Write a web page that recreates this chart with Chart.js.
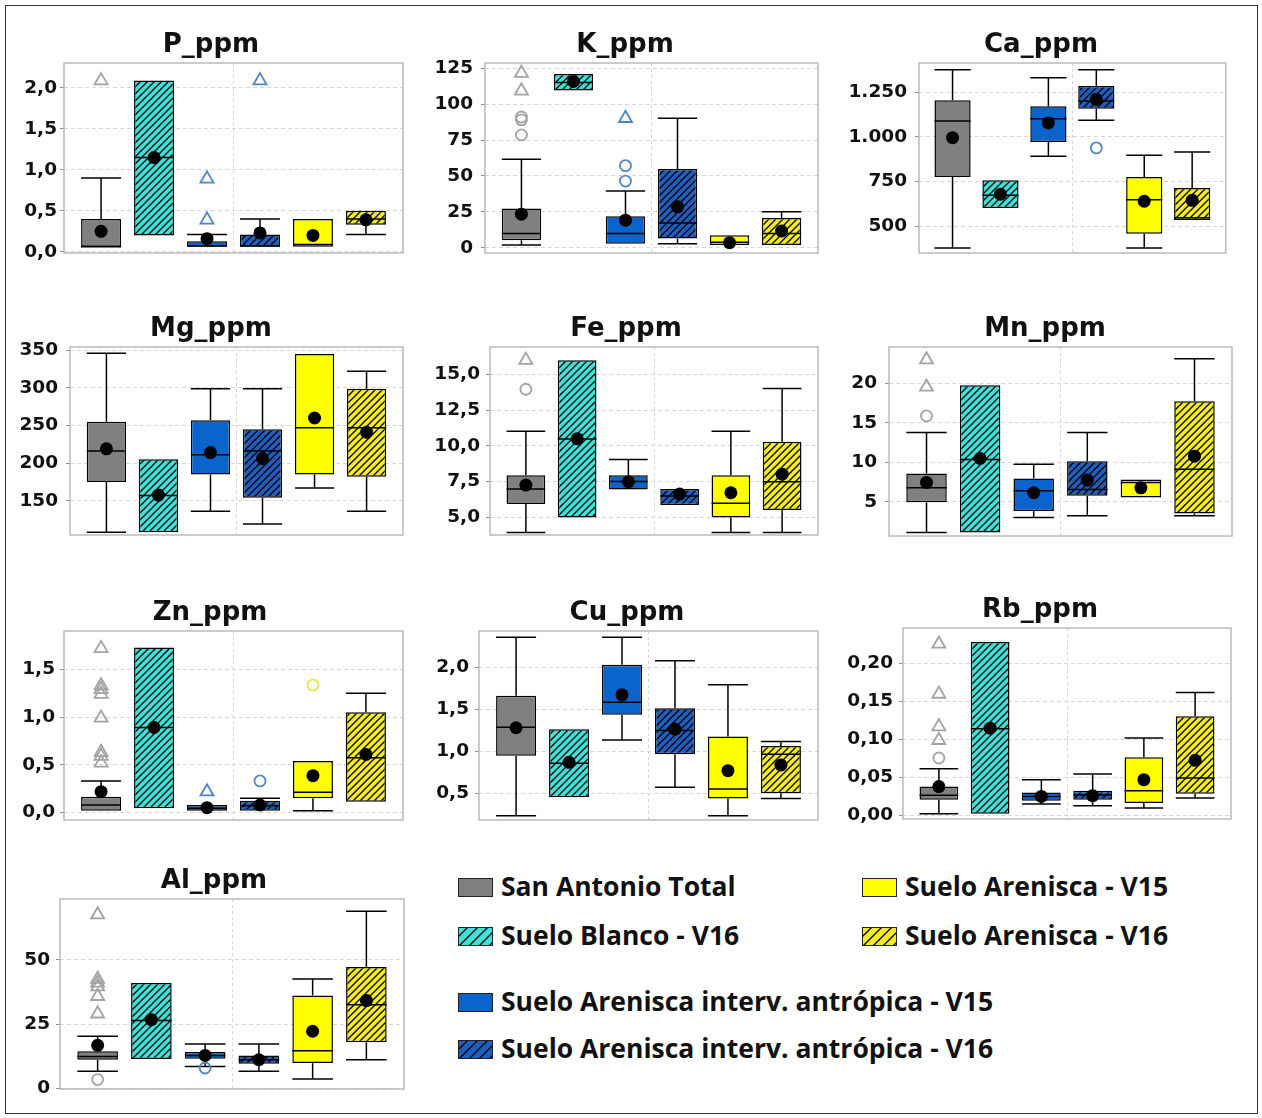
<!DOCTYPE html>
<html lang="es">
<head>
<meta charset="utf-8">
<title>Suelos San Antonio - boxplots</title>
<script src="https://cdn.jsdelivr.net/npm/chart.js@4.4.1/dist/chart.umd.min.js"></script>
<style>
  html, body { margin: 0; background: #fff; }
  body { width: 1262px; height: 1118px; position: relative; overflow: hidden; }
  #frame { position: absolute; left: 5px; top: 5px; width: 1251px; height: 1107px; border: 1px solid #333; }
  canvas { position: absolute; }
  .lt { position: absolute; font-family: 'Open Sans', sans-serif; font-weight: 700; font-size: 26.5px; line-height: 19px; color: #111; white-space: nowrap; }
</style>
</head>
<body>
<div id="frame"></div>
<script>
// Groups, in box order
const groups = ['San Antonio Total', 'Suelo Blanco - V16', 'Suelo Arenisca interv. antrópica - V15',
  'Suelo Arenisca interv. antrópica - V16', 'Suelo Arenisca - V15', 'Suelo Arenisca - V16'];
const xPos = [1, 2, 3, 4, 5, 6];

// P_ppm
const P_lo = [0.06, 0.20, 0.06, 0.06, 0.06, 0.21];
const P_q1 = [0.06, 0.20, 0.06, 0.06, 0.06, 0.33];
const P_med = [0.06, 1.15, 0.07, 0.07, 0.09, 0.40];
const P_q3 = [0.40, 2.09, 0.13, 0.21, 0.40, 0.50];
const P_hi = [0.90, 2.09, 0.21, 0.40, 0.40, 0.50];
const P_mean = [0.25, 1.15, 0.16, 0.23, 0.20, 0.39];
const P_circ = [];
const P_tri = [[1, 2.09], [3, 0.89], [3, 0.39], [4, 2.09]];
const P_ticks = [0, 0.5, 1, 1.5, 2];

// K_ppm
const K_lo = [2, 109.4, 3, 3, 2, 2];
const K_q1 = [5.3, 109.4, 3, 6.5, 2, 2];
const K_med = [10, 115, 10, 17.4, 4, 10];
const K_q3 = [27.4, 120.8, 22.1, 54.8, 8.8, 20.9];
const K_hi = [61.6, 120.8, 39.5, 90.1, 8.8, 25.1];
const K_mean = [23.5, 115.7, 19.3, 28.6, 3.7, 11.8];
const K_circ = [[1, 78.5], [1, 89], [1, 91], [3, 57.2], [3, 46.5]];
const K_tri = [[1, 121.5], [1, 109.2], [3, 90.1]];
const K_ticks = [0, 25, 50, 75, 100, 125];

// Ca_ppm
const Ca_lo = [379, 602, 891, 1092, 379, 535];
const Ca_q1 = [776, 602, 971, 1157, 459, 535];
const Ca_med = [1088, 673, 1101, 1200, 649, 548];
const Ca_q3 = [1204, 757, 1170, 1284, 776, 714];
const Ca_hi = [1375, 757, 1330, 1375, 897, 915];
const Ca_mean = [995, 679, 1077, 1209, 640, 645];
const Ca_circ = [[4, 938]];
const Ca_tri = [];
const Ca_ticks = [500, 750, 1000, 1250];

// Mg_ppm
const Mg_lo = [108, 108, 136, 119, 167, 136];
const Mg_q1 = [175, 108, 185, 154, 185, 182];
const Mg_med = [216, 157, 211, 216, 247, 247];
const Mg_q3 = [255, 205, 257, 245, 345, 299];
const Mg_hi = [346, 205, 299, 299, 345, 322];
const Mg_mean = [219, 157.5, 214, 206, 260, 241];
const Mg_circ = [];
const Mg_tri = [];
const Mg_ticks = [150, 200, 250, 300, 350];

// Fe_ppm
const Fe_lo = [3.95, 5.0, 6.95, 5.86, 3.95, 3.95];
const Fe_q1 = [5.93, 5.0, 6.95, 5.86, 5.0, 5.51];
const Fe_med = [6.98, 10.47, 7.5, 6.5, 5.98, 7.49];
const Fe_q3 = [7.95, 15.98, 7.95, 6.98, 7.95, 10.28];
const Fe_hi = [11.02, 15.98, 9.05, 6.98, 11.02, 14.0];
const Fe_mean = [7.26, 10.5, 7.49, 6.63, 6.72, 8.02];
const Fe_circ = [[1, 13.95]];
const Fe_tri = [[1, 15.98]];
const Fe_ticks = [5, 7.5, 10, 12.5, 15];

// Mn_ppm
const Mn_lo = [1.11, 1.11, 3.01, 3.23, 5.55, 3.23];
const Mn_q1 = [4.92, 1.11, 3.82, 5.76, 5.55, 3.52];
const Mn_med = [6.77, 10.37, 6.39, 6.56, 7.45, 9.14];
const Mn_q3 = [8.59, 19.79, 7.96, 10.15, 7.83, 17.76];
const Mn_hi = [13.79, 19.79, 9.77, 13.79, 7.83, 23.17];
const Mn_mean = [7.45, 10.49, 6.14, 7.75, 6.77, 10.79];
const Mn_circ = [[1, 15.9]];
const Mn_tri = [[1, 19.58], [1, 23.04]];
const Mn_ticks = [5, 10, 15, 20];

// Zn_ppm
const Zn_lo = [0.017, 0.042, 0.017, 0.017, 0.017, 0.112];
const Zn_q1 = [0.017, 0.042, 0.017, 0.017, 0.147, 0.112];
const Zn_med = [0.077, 0.89, 0.042, 0.07, 0.21, 0.573];
const Zn_q3 = [0.164, 1.73, 0.077, 0.122, 0.54, 1.05];
const Zn_hi = [0.33, 1.73, 0.077, 0.147, 0.54, 1.25];
const Zn_mean = [0.217, 0.89, 0.049, 0.077, 0.385, 0.608];
const Zn_circ = [[4, 0.33], [5, 1.335]];
const Zn_tri = [[1, 1.72], [1, 1.33], [1, 1.29], [1, 1.24], [1, 0.99], [1, 0.63], [1, 0.59], [1, 0.52], [3, 0.217]];
const Zn_ticks = [0, 0.5, 1, 1.5];

// Cu_ppm
const Cu_lo = [0.234, 0.452, 1.135, 0.571, 0.234, 0.44];
const Cu_q1 = [0.948, 0.452, 1.433, 0.964, 0.44, 0.5];
const Cu_med = [1.286, 0.857, 1.583, 1.246, 0.552, 0.964];
const Cu_q3 = [1.659, 1.262, 2.028, 1.512, 1.175, 1.063];
const Cu_hi = [2.357, 1.262, 2.357, 2.075, 1.79, 1.115];
const Cu_mean = [1.28, 0.869, 1.671, 1.262, 0.77, 0.837];
const Cu_circ = [];
const Cu_tri = [];
const Cu_ticks = [0.5, 1, 1.5, 2];

// Rb_ppm
const Rb_lo = [0.0022, 0.0022, 0.015, 0.0127, 0.0097, 0.0229];
const Rb_q1 = [0.0207, 0.0022, 0.0193, 0.0207, 0.0163, 0.0286];
const Rb_med = [0.0264, 0.1143, 0.025, 0.027, 0.0325, 0.0492];
const Rb_q3 = [0.0382, 0.2286, 0.0303, 0.0325, 0.0765, 0.1305];
const Rb_hi = [0.0615, 0.2286, 0.047, 0.0545, 0.102, 0.162];
const Rb_mean = [0.038, 0.115, 0.025, 0.026, 0.047, 0.0725];
const Rb_circ = [[1, 0.0756]];
const Rb_tri = [[1, 0.099], [1, 0.117], [1, 0.160], [1, 0.226]];
const Rb_ticks = [0, 0.05, 0.1, 0.15, 0.2];

// Al_ppm
const Al_lo = [6.6, 11.4, 8.5, 6.6, 3.6, 11.1];
const Al_q1 = [11.1, 11.4, 11.5, 9.6, 9.8, 17.9];
const Al_med = [12.4, 26.4, 12.8, 11.1, 14.6, 32.5];
const Al_q3 = [14.4, 40.9, 14.1, 12.8, 36.1, 47.2];
const Al_hi = [20.2, 40.9, 17.2, 17.2, 42.5, 68.8];
const Al_mean = [16.7, 26.7, 12.8, 11.1, 22.2, 34.1];
const Al_circ = [[1, 3.4], [3, 7.9]];
const Al_tri = [[1, 67.5], [1, 42.5], [1, 41], [1, 39.5], [1, 35.8], [1, 29]];
const Al_ticks = [0, 25, 50];

// Colours per group
const groupColors = ['#808080', '#3DE3DA', '#0B64CC', '#1F5FBF', '#FFFF00', '#F4EC1E'];
const hatched = [false, true, false, true, false, true];
const outlierColors = ['#A3A3A3', '#3DE3DA', '#4C86C8', '#4C86C8', '#EDE447', '#EDE447'];

const panels = [
  { id: 'P', title: 'P_ppm', lo: P_lo, q1: P_q1, med: P_med, q3: P_q3, hi: P_hi, mean: P_mean, circ: P_circ, tri: P_tri, ticks: P_ticks, dec: 1, yMin: -0.015, yMax: 2.305 },
  { id: 'K', title: 'K_ppm', lo: K_lo, q1: K_q1, med: K_med, q3: K_q3, hi: K_hi, mean: K_mean, circ: K_circ, tri: K_tri, ticks: K_ticks, dec: 0, yMin: -3.5, yMax: 128.5 },
  { id: 'Ca', title: 'Ca_ppm', lo: Ca_lo, q1: Ca_q1, med: Ca_med, q3: Ca_q3, hi: Ca_hi, mean: Ca_mean, circ: Ca_circ, tri: Ca_tri, ticks: Ca_ticks, dec: 0, yMin: 351, yMax: 1412 },
  { id: 'Mg', title: 'Mg_ppm', lo: Mg_lo, q1: Mg_q1, med: Mg_med, q3: Mg_q3, hi: Mg_hi, mean: Mg_mean, circ: Mg_circ, tri: Mg_tri, ticks: Mg_ticks, dec: 0, yMin: 104.4, yMax: 354.4 },
  { id: 'Fe', title: 'Fe_ppm', lo: Fe_lo, q1: Fe_q1, med: Fe_med, q3: Fe_q3, hi: Fe_hi, mean: Fe_mean, circ: Fe_circ, tri: Fe_tri, ticks: Fe_ticks, dec: 1, yMin: 3.77, yMax: 16.9 },
  { id: 'Mn', title: 'Mn_ppm', lo: Mn_lo, q1: Mn_q1, med: Mn_med, q3: Mn_q3, hi: Mn_hi, mean: Mn_mean, circ: Mn_circ, tri: Mn_tri, ticks: Mn_ticks, dec: 0, yMin: 0.65, yMax: 24.65 },
  { id: 'Zn', title: 'Zn_ppm', lo: Zn_lo, q1: Zn_q1, med: Zn_med, q3: Zn_q3, hi: Zn_hi, mean: Zn_mean, circ: Zn_circ, tri: Zn_tri, ticks: Zn_ticks, dec: 1, yMin: -0.08, yMax: 1.902 },
  { id: 'Cu', title: 'Cu_ppm', lo: Cu_lo, q1: Cu_q1, med: Cu_med, q3: Cu_q3, hi: Cu_hi, mean: Cu_mean, circ: Cu_circ, tri: Cu_tri, ticks: Cu_ticks, dec: 1, yMin: 0.183, yMax: 2.43 },
  { id: 'Rb', title: 'Rb_ppm', lo: Rb_lo, q1: Rb_q1, med: Rb_med, q3: Rb_q3, hi: Rb_hi, mean: Rb_mean, circ: Rb_circ, tri: Rb_tri, ticks: Rb_ticks, dec: 2, yMin: -0.0048, yMax: 0.247 },
  { id: 'Al', title: 'Al_ppm', lo: Al_lo, q1: Al_q1, med: Al_med, q3: Al_q3, hi: Al_hi, mean: Al_mean, circ: Al_circ, tri: Al_tri, ticks: Al_ticks, dec: 0, yMin: -0.26, yMax: 73.6 }
];

// Plot-area placement on the page (pixels)
const panelLayout = {
  P:  { left: 64,  right: 403,  top: 63,  bottom: 253,  titleX: 211,  gap: 3 },
  K:  { left: 485, right: 818,  top: 63,  bottom: 253,  titleX: 625,  gap: 8 },
  Ca: { left: 919, right: 1232, top: 63,  bottom: 253,  titleX: 1041, gap: 8 },
  Mg: { left: 70,  right: 403,  top: 347, bottom: 535,  titleX: 211,  gap: 8 },
  Fe: { left: 490, right: 818,  top: 347, bottom: 535,  titleX: 626,  gap: 6 },
  Mn: { left: 889, right: 1232, top: 347, bottom: 536,  titleX: 1045, gap: 8 },
  Zn: { left: 64,  right: 403,  top: 631, bottom: 820,  titleX: 210,  gap: 5 },
  Cu: { left: 479, right: 818,  top: 631, bottom: 820,  titleX: 627,  gap: 6 },
  Rb: { left: 903, right: 1231, top: 628, bottom: 819,  titleX: 1040, gap: 6 },
  Al: { left: 60,  right: 404,  top: 899, bottom: 1089, titleX: 214,  gap: 6 }
};

Chart.defaults.font.family = "'DejaVu Sans', sans-serif";

// 1.250 / 0,5 style labels
function fmt(v, dec) {
  const parts = v.toFixed(dec).split('.');
  const whole = parts[0].replace(/\B(?=(\d{3})+(?!\d))/g, '.');
  return parts[1] ? whole + ',' + parts[1] : whole;
}

// Diagonal hatch pattern on a base colour
function hatch(ctx, base, s) {
  const tile = document.createElement('canvas');
  tile.width = s; tile.height = s;
  const g = tile.getContext('2d');
  g.fillStyle = base;
  g.fillRect(0, 0, s, s);
  g.strokeStyle = '#000';
  g.lineWidth = 1.3;
  g.beginPath();
  g.moveTo(0, s); g.lineTo(s, 0);
  g.moveTo(-s / 2, s / 2); g.lineTo(s / 2, -s / 2);
  g.moveTo(s / 2, s * 1.5); g.lineTo(s * 1.5, s / 2);
  g.stroke();
  return ctx.createPattern(tile, 'repeat');
}

// Light frame round the plot area
const plotFrame = {
  id: 'plotFrame',
  beforeDatasetsDraw(chart) {
    const a = chart.chartArea, c = chart.ctx;
    c.save();
    c.strokeStyle = '#BABABA';
    c.lineWidth = 1.5;
    c.strokeRect(a.left, a.top, a.right - a.left, a.bottom - a.top);
    c.restore();
  }
};

function makePanel(p) {
  const L = panelLayout[p.id];
  const titleH = 36, axisH = 30;
  // y axis box starts well left of its labels; an empty right axis balances the title
  const cl = Math.max(6, L.left - 70);
  const rightW = 2 * L.titleX - cl - L.right;
  const canvas = document.createElement('canvas');
  canvas.width = L.right + rightW - cl;
  canvas.height = L.bottom + axisH - (L.top - titleH);
  canvas.style.left = cl + 'px';
  canvas.style.top = (L.top - titleH) + 'px';
  document.body.appendChild(canvas);
  const ctx = canvas.getContext('2d');
  const fills = groupColors.map((c, i) => hatched[i] ? hatch(ctx, c, 7) : c);

  // whiskers and median drawn right after the boxes
  const whiskers = {
    id: 'whiskers',
    afterDatasetDraw(chart, args) {
      if (args.meta.type !== 'bar') return;
      const y = chart.scales.y, c = chart.ctx;
      const seg = (x1, y1, x2, y2) => { c.beginPath(); c.moveTo(x1, y1); c.lineTo(x2, y2); c.stroke(); };
      c.save();
      c.strokeStyle = '#000';
      c.lineWidth = 1.5;
      args.meta.data.forEach((bar, i) => {
        const h = bar.width / 2;
        if (p.hi[i] > p.q3[i]) {
          const top = y.getPixelForValue(p.hi[i]);
          seg(bar.x, y.getPixelForValue(p.q3[i]), bar.x, top);
          seg(bar.x - h, top, bar.x + h, top);
        }
        if (p.lo[i] < p.q1[i]) {
          const bot = y.getPixelForValue(p.lo[i]);
          seg(bar.x, y.getPixelForValue(p.q1[i]), bar.x, bot);
          seg(bar.x - h, bot, bar.x + h, bot);
        }
        const m = y.getPixelForValue(p.med[i]);
        seg(bar.x - h, m, bar.x + h, m);
      });
      c.restore();
    }
  };

  const outlierSet = (list, style, r) => ({
    type: 'scatter',
    data: list.map(o => ({ x: o[0], y: o[1] })),
    pointStyle: style,
    pointRadius: r,
    pointBorderWidth: 1.8,
    pointBackgroundColor: 'rgba(0,0,0,0)',
    pointBorderColor: list.map(o => outlierColors[o[0] - 1]),
    clip: false,
    order: 2
  });

  new Chart(ctx, {
    type: 'bar',
    data: {
      datasets: [
        {
          type: 'bar',
          label: p.title,
          data: xPos.map((x, i) => ({ x: x, y: [p.q1[i], p.q3[i]] })),
          backgroundColor: fills,
          borderColor: '#000',
          borderWidth: 1.5,
          borderSkipped: false,
          barPercentage: 0.755,
          categoryPercentage: 1,
          order: 3
        },
        outlierSet(p.circ, 'circle', 5.5),
        outlierSet(p.tri, 'triangle', 7.5),
        {
          type: 'scatter',
          data: xPos.map((x, i) => ({ x: x, y: p.mean[i] })),
          pointRadius: 6.5,
          pointBorderWidth: 0,
          pointBackgroundColor: '#000',
          clip: false,
          order: 1
        }
      ]
    },
    options: {
      responsive: false,
      animation: false,
      events: [],
      layout: { padding: 0 },
      plugins: {
        legend: { display: false },
        tooltip: { enabled: false },
        title: {
          display: true,
          text: p.title,
          color: '#111',
          font: { size: 26, weight: 'bold', lineHeight: 1.2 },
          padding: { top: 2.5, bottom: 2.3 }
        }
      },
      scales: {
        x: {
          type: 'linear',
          min: 0.3,
          max: 6.7,
          offset: false,
          afterBuildTicks: s => { s.ticks = [{ value: 3.5 }]; },
          afterFit: s => { s.height = axisH; },
          ticks: { display: false },
          grid: { offset: false, drawTicks: false, color: '#D6D6D6' },
          border: { display: false, dash: [3, 3] }
        },
        y: {
          type: 'linear',
          min: p.yMin,
          max: p.yMax,
          afterBuildTicks: s => { s.ticks = p.ticks.map(v => ({ value: v })); },
          afterFit: s => { s.width = L.left - cl; },
          ticks: {
            callback: v => fmt(v, p.dec),
            padding: L.gap,
            color: '#111',
            font: { size: 18.5, weight: 'bold' }
          },
          grid: { color: '#D6D6D6', tickColor: '#8C8C8C', tickLength: 4, tickBorderDash: [] },
          border: { display: false, dash: [4, 3] }
        },
        yr: {
          type: 'linear',
          position: 'right',
          afterFit: s => { s.width = rightW; },
          ticks: { display: false },
          grid: { display: false },
          border: { display: false }
        }
      }
    },
    plugins: [plotFrame, whiskers]
  });
}

panels.forEach(makePanel);

// Legend
const legendSpots = [[458, 878], [458, 927], [458, 993], [458, 1040], [862, 878], [862, 927]];
groups.forEach((name, i) => {
  const [x, y] = legendSpots[i];
  const sw = document.createElement('canvas');
  sw.width = 35; sw.height = 19;
  sw.style.left = x + 'px';
  sw.style.top = y + 'px';
  document.body.appendChild(sw);
  const g = sw.getContext('2d');
  g.fillStyle = hatched[i] ? hatch(g, groupColors[i], 10) : groupColors[i];
  g.fillRect(0, 0, 35, 19);
  g.strokeStyle = '#222';
  g.lineWidth = 1;
  g.strokeRect(0.5, 0.5, 34, 18);

  const t = document.createElement('div');
  t.className = 'lt';
  t.textContent = name;
  t.style.left = (x + 43) + 'px';
  t.style.top = (y - 1) + 'px';
  document.body.appendChild(t);
});
</script>
</body>
</html>
